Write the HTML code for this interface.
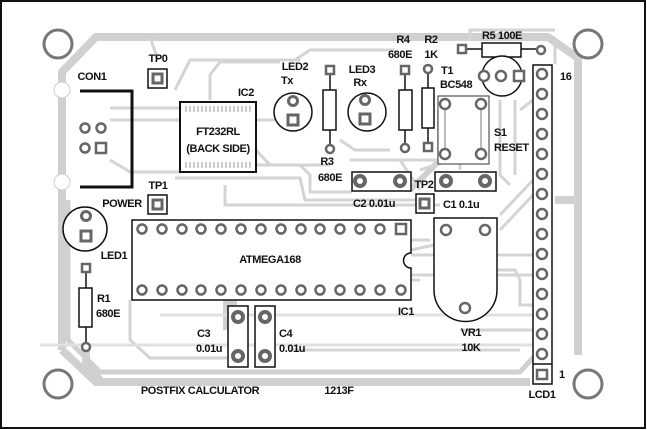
<!DOCTYPE html>
<html><head><meta charset="utf-8"><style>
html,body{margin:0;padding:0;background:#fff}
svg{display:block}
text{font-family:"Liberation Sans",sans-serif;font-weight:bold;font-size:11px;letter-spacing:-0.4px;fill:#111}
</style></head><body>
<svg width="647" height="430" viewBox="0 0 647 430" xmlns="http://www.w3.org/2000/svg">
<rect x="1" y="1" width="644" height="427" fill="#fff" stroke="#111" stroke-width="2"/>
<g fill="none" stroke="#d0d0d0" stroke-width="8" stroke-linejoin="round">
<path d="M62 350 V72 L96 37 H548 L578 58 V355"/>
<path d="M62 350 L96 382 H530"/>
<path d="M100 380 L86 366 V350"/>
<path d="M68 200 V340 L100 372 H520 L540 350" stroke-width="5"/>
<path d="M578 200 H555"/>
<path d="M230 290 V330" stroke-width="14"/>
<path d="M410 190 L440 160 V110" stroke-width="6"/>
</g>
<g fill="none" stroke="#d4d4d4" stroke-width="3">
<path d="M150 37 L158 60"/>
<path d="M175 90 L190 60 H300"/>
<path d="M210 100 V75 L220 62 H280"/>
<path d="M110 108 H180"/>
<path d="M110 120 H180"/>
<path d="M110 160 L130 172 H180"/>
<path d="M256 120 H275"/>
<path d="M256 150 L270 165 H330"/>
<path d="M256 165 H300 L310 175 V192 H352"/>
<path d="M175 178 H300 L305 200 H420"/>
<path d="M225 185 V205 H440"/>
<path d="M340 140 L355 150 H390"/>
<path d="M350 160 H440"/>
<path d="M420 170 L450 160"/>
<path d="M130 300 V340 L150 358 H228"/>
<path d="M150 245 H400"/>
<path d="M160 255 V272 H400"/>
<path d="M180 265 H400"/>
<path d="M190 280 H420"/>
<path d="M411 240 H430"/>
<path d="M411 250 L434 245"/>
<path d="M411 255 H533"/>
<path d="M411 275 H533"/>
<path d="M500 230 L533 195"/>
<path d="M500 215 L533 180"/>
<path d="M497 270 H515 L520 280 V305 H533"/>
<path d="M460 330 H533"/>
<path d="M40 345 H533" stroke="#e0e0e0"/>
<path d="M160 315 H533" stroke="#e0e0e0"/>
<path d="M290 350 H520"/>
<path d="M470 40 V30 H555"/>
<path d="M555 40 V64"/>
<path d="M455 100 L460 120 V170"/>
<path d="M500 100 V175 L510 185"/>
<path d="M515 100 V175"/>
<path d="M520 110 L533 100"/>
<path d="M295 60 L310 50 H395"/>
<path d="M400 160 L420 190"/>
</g>
<g fill="none" stroke="#777" stroke-width="3">
<circle cx="58" cy="44" r="14"/><circle cx="588" cy="44" r="14"/>
<circle cx="58" cy="384" r="14"/><circle cx="588" cy="384" r="14"/>
</g>
<circle cx="62" cy="90" r="8" fill="#fff" stroke="#ccc"/>
<circle cx="62" cy="182" r="8" fill="#fff" stroke="#ccc"/>
<path d="M80 91 H132 V187 H80" fill="none" stroke="#111" stroke-width="3"/>
<text x="92" y="80" text-anchor="middle">CON1</text>
<g fill="#fff" stroke="#666" stroke-width="2.5">
<circle cx="85" cy="128" r="4.5"/><circle cx="101" cy="128" r="4.5"/><circle cx="85" cy="148" r="4.5"/>
<rect x="96" y="143" width="10" height="10"/>
</g>
<g fill="#fff" stroke="#111" stroke-width="1.5">
<rect x="148" y="69" width="19" height="19"/><rect x="148" y="195" width="19" height="19"/><rect x="416" y="194" width="18" height="19"/>
</g>
<g fill="#fff" stroke="#666" stroke-width="3">
<rect x="153" y="74" width="9" height="9"/><rect x="153" y="200" width="9" height="9"/><rect x="420" y="199" width="9" height="9"/>
</g>
<text x="158" y="62" text-anchor="middle">TP0</text>
<text x="158" y="189" text-anchor="middle">TP1</text>
<text x="122" y="207" text-anchor="middle">POWER</text>
<text x="424" y="188" text-anchor="middle">TP2</text>
<rect x="180" y="102" width="76" height="70" fill="#fff" stroke="#111" stroke-width="2"/>
<path d="M186 106 v6 M190 106 v6 M194 106 v6 M198 106 v6 M202 106 v6 M206 106 v6 M210 106 v6 M214 106 v6 M218 106 v6 M222 106 v6 M226 106 v6 M230 106 v6 M234 106 v6 M238 106 v6 M242 106 v6 M246 106 v6 M250 106 v6 M186 162 v6 M190 162 v6 M194 162 v6 M198 162 v6 M202 162 v6 M206 162 v6 M210 162 v6 M214 162 v6 M218 162 v6 M222 162 v6 M226 162 v6 M230 162 v6 M234 162 v6 M238 162 v6 M242 162 v6 M246 162 v6 M250 162 v6" stroke="#bbb" stroke-width="1.5"/>
<text x="246" y="96" text-anchor="middle">IC2</text>
<text x="218" y="135" text-anchor="middle">FT232RL</text>
<text x="218" y="152" text-anchor="middle">(BACK SIDE)</text>
<g fill="#fff" stroke="#111" stroke-width="1.5">
<circle cx="293" cy="112" r="19"/><circle cx="367" cy="112" r="19"/><circle cx="85" cy="229" r="22"/>
</g>
<g fill="#fff" stroke="#666" stroke-width="3">
<circle cx="293" cy="101" r="4.5"/><rect x="288" y="115" width="10" height="10"/>
<circle cx="365" cy="100" r="4.5"/><rect x="360" y="114" width="10" height="10"/>
<circle cx="86" cy="216" r="4.5"/><rect x="81" y="231" width="10" height="10"/>
</g>
<text x="295" y="70" text-anchor="middle">LED2</text><text x="287" y="84" text-anchor="middle">Tx</text>
<text x="362" y="73" text-anchor="middle">LED3</text><text x="360" y="86" text-anchor="middle">Rx</text>
<text x="114" y="259" text-anchor="middle">LED1</text>
<g stroke="#111" stroke-width="1.5" fill="#fff">
<path d="M330 70 V149 M405 70 V148 M428 69 V147 M86 268 V347 M462 49 H541"/>
<rect x="323" y="90" width="13" height="40"/><rect x="399" y="90" width="13" height="40"/>
<rect x="422" y="88" width="12" height="40"/><rect x="79" y="288" width="13" height="39"/>
<rect x="482" y="43" width="39" height="14"/>
</g>
<g fill="#fff" stroke="#666" stroke-width="2.5">
<rect x="326" y="66" width="8" height="8"/><circle cx="330" cy="149" r="4"/>
<rect x="401" y="66" width="8" height="8"/><circle cx="405" cy="148" r="4"/>
<circle cx="428" cy="69" r="4"/><rect x="424" y="143" width="8" height="8"/>
<rect x="82" y="264" width="8" height="8"/><circle cx="86" cy="347" r="4"/>
<rect x="458" y="45" width="8" height="8"/><circle cx="541" cy="50" r="4"/>
</g>
<text x="327" y="165" text-anchor="middle">R3</text><text x="330" y="181" text-anchor="middle">680E</text>
<text x="403" y="43" text-anchor="middle">R4</text><text x="400" y="58" text-anchor="middle">680E</text>
<text x="431" y="43" text-anchor="middle">R2</text><text x="431" y="58" text-anchor="middle">1K</text>
<text x="502" y="39" text-anchor="middle">R5 100E</text>
<text x="97" y="302">R1</text><text x="96" y="317">680E</text>
<circle cx="502" cy="76" r="20" fill="#fff" stroke="#111" stroke-width="1.5"/>
<g fill="#fff" stroke="#666" stroke-width="2.5">
<circle cx="484" cy="76" r="5"/><circle cx="501" cy="76" r="5"/><rect x="514" y="71" width="10" height="10"/>
</g>
<text x="441" y="74">T1</text><text x="440" y="88">BC548</text>
<rect x="438" y="96" width="51" height="68" fill="#fff" stroke="#333" stroke-width="1"/>
<path d="M445 110 V148 M481 110 V148" stroke="#777" stroke-width="1"/>
<g fill="#fff" stroke="#666" stroke-width="2.5">
<circle cx="445" cy="104" r="5"/><circle cx="481" cy="104" r="5"/><circle cx="445" cy="154" r="5"/><circle cx="481" cy="154" r="5"/>
</g>
<text x="494" y="136">S1</text><text x="494" y="151">RESET</text>
<g fill="#fff" stroke="#111" stroke-width="1.5">
<rect x="352" y="172" width="59" height="19"/><rect x="435" y="172" width="61" height="19"/>
<rect x="228" y="306" width="20" height="61"/><rect x="255" y="306" width="20" height="61"/>
</g>
<g fill="#fff" stroke="#666" stroke-width="4">
<circle cx="360" cy="181" r="5"/><circle cx="400" cy="181" r="5"/>
<circle cx="446" cy="181" r="5"/><circle cx="485" cy="181" r="5"/>
<circle cx="238" cy="317" r="5"/><circle cx="238" cy="356" r="5"/>
<circle cx="265" cy="317" r="5"/><circle cx="265" cy="356" r="5"/>
</g>
<text x="353" y="207">C2 0.01u</text><text x="443" y="208">C1 0.1u</text>
<text x="197" y="337">C3</text><text x="196" y="352">0.01u</text>
<text x="279" y="337">C4</text><text x="279" y="352">0.01u</text>
<path d="M132 220 H411 V253 A7 7 0 0 0 411 268 V300 H132 Z" fill="#fff" stroke="#111" stroke-width="1.5"/>
<g fill="#fff" stroke="#666" stroke-width="2.5">
<circle cx="142" cy="229" r="4.5"/><circle cx="162" cy="229" r="4.5"/><circle cx="182" cy="229" r="4.5"/><circle cx="201" cy="229" r="4.5"/><circle cx="221" cy="229" r="4.5"/><circle cx="241" cy="229" r="4.5"/><circle cx="261" cy="229" r="4.5"/><circle cx="281" cy="229" r="4.5"/><circle cx="301" cy="229" r="4.5"/><circle cx="320" cy="229" r="4.5"/><circle cx="340" cy="229" r="4.5"/><circle cx="360" cy="229" r="4.5"/><circle cx="380" cy="229" r="4.5"/><rect x="396" y="224" width="10" height="10"/>
<circle cx="142" cy="290" r="4.5"/><circle cx="162" cy="290" r="4.5"/><circle cx="182" cy="290" r="4.5"/><circle cx="201" cy="290" r="4.5"/><circle cx="221" cy="290" r="4.5"/><circle cx="241" cy="290" r="4.5"/><circle cx="261" cy="290" r="4.5"/><circle cx="281" cy="290" r="4.5"/><circle cx="301" cy="290" r="4.5"/><circle cx="320" cy="290" r="4.5"/><circle cx="340" cy="290" r="4.5"/><circle cx="360" cy="290" r="4.5"/><circle cx="380" cy="290" r="4.5"/><circle cx="401" cy="290" r="4.5"/>
</g>
<text x="270" y="263" text-anchor="middle">ATMEGA168</text>
<text x="406" y="315" text-anchor="middle">IC1</text>
<path d="M434 218 H497 V290 A31.5 31.5 0 0 1 434 290 Z" fill="#fff" stroke="#111" stroke-width="1.5"/>
<g fill="#fff" stroke="#666" stroke-width="2.5">
<circle cx="446" cy="230" r="5"/><circle cx="485" cy="230" r="5"/><circle cx="465" cy="308" r="5"/>
</g>
<text x="471" y="336" text-anchor="middle">VR1</text><text x="471" y="351" text-anchor="middle">10K</text>
<rect x="533" y="65" width="19" height="319" fill="#fff" stroke="#111" stroke-width="1.5"/>
<path d="M533 364 H552" stroke="#111" stroke-width="1.5"/>
<g fill="#fff" stroke="#666" stroke-width="2.5">
<circle cx="542" cy="74" r="5"/><circle cx="542" cy="94" r="5"/><circle cx="542" cy="114" r="5"/><circle cx="542" cy="134" r="5"/><circle cx="542" cy="154" r="5"/><circle cx="542" cy="174" r="5"/><circle cx="542" cy="194" r="5"/><circle cx="542" cy="214" r="5"/><circle cx="542" cy="234" r="5"/><circle cx="542" cy="254" r="5"/><circle cx="542" cy="274" r="5"/><circle cx="542" cy="294" r="5"/><circle cx="542" cy="314" r="5"/><circle cx="542" cy="334" r="5"/><circle cx="542" cy="354" r="5"/>
<rect x="537" y="370" width="10" height="9"/>
</g>
<text x="560" y="80">16</text><text x="559" y="378">1</text>
<text x="542" y="398" text-anchor="middle">LCD1</text>
<text x="200" y="394" text-anchor="middle">POSTFIX CALCULATOR</text>
<text x="339" y="394" text-anchor="middle">1213F</text>
</svg>
</body></html>
